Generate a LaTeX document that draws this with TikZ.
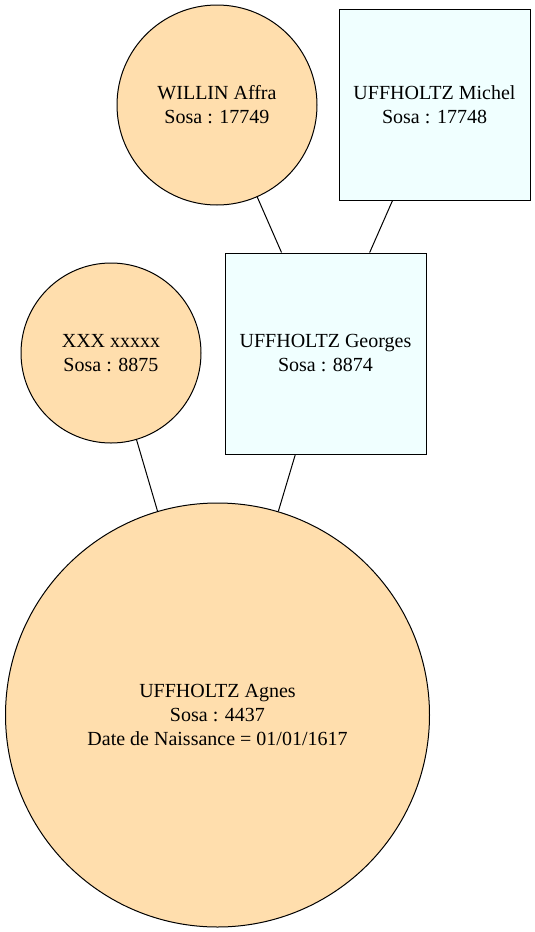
\documentclass[tikz,border=0pt]{standalone}
\usepackage{fontspec}
\setmainfont{Liberation Serif}
\definecolor{sosaorange}{RGB}{255, 222, 173}
\definecolor{sosablue}{RGB}{240, 255, 255}
\usetikzlibrary{positioning}
\tikzset{
  femme/.style={circle, draw=black, fill=sosaorange, inner sep=0pt, align=center, font=\fontsize{20}{24}\selectfont},
  homme/.style={rectangle, draw=black, fill=sosablue, inner sep=0pt, align=center, font=\fontsize{20}{24}\selectfont},
  lien/.style={draw=black, line width=1pt}
}

\begin{document}
\begin{tikzpicture}[x=1pt, y=-1pt, line width=1pt]
  \useasboundingbox (0,0) rectangle (535,932);
  % parents
  \node[femme, minimum size=200pt] (affra) at (217, 105) {WILLIN Affra\\Sosa : 17749};
  \node[homme, minimum size=191pt] (michel) at (434.5, 104.5) {UFFHOLTZ Michel\\Sosa : 17748};
  \node[femme, minimum size=180pt] (xxx) at (111, 353) {XXX xxxxx\\Sosa : 8875};
  \node[homme, minimum size=201pt] (georges) at (325.5, 353.5) {UFFHOLTZ Georges\\Sosa : 8874};
  % enfant
  \node[femme, minimum size=424pt] (agnes) at (217.5, 715) {UFFHOLTZ Agnes\\Sosa : 4437\\Date de Naissance = 01/01/1617};
  \draw[lien] (affra) -- (georges);
  \draw[lien] (michel) -- (georges);
  \draw[lien] (xxx) -- (agnes);
  \draw[lien] (georges) -- (agnes);
\end{tikzpicture}
\end{document}
